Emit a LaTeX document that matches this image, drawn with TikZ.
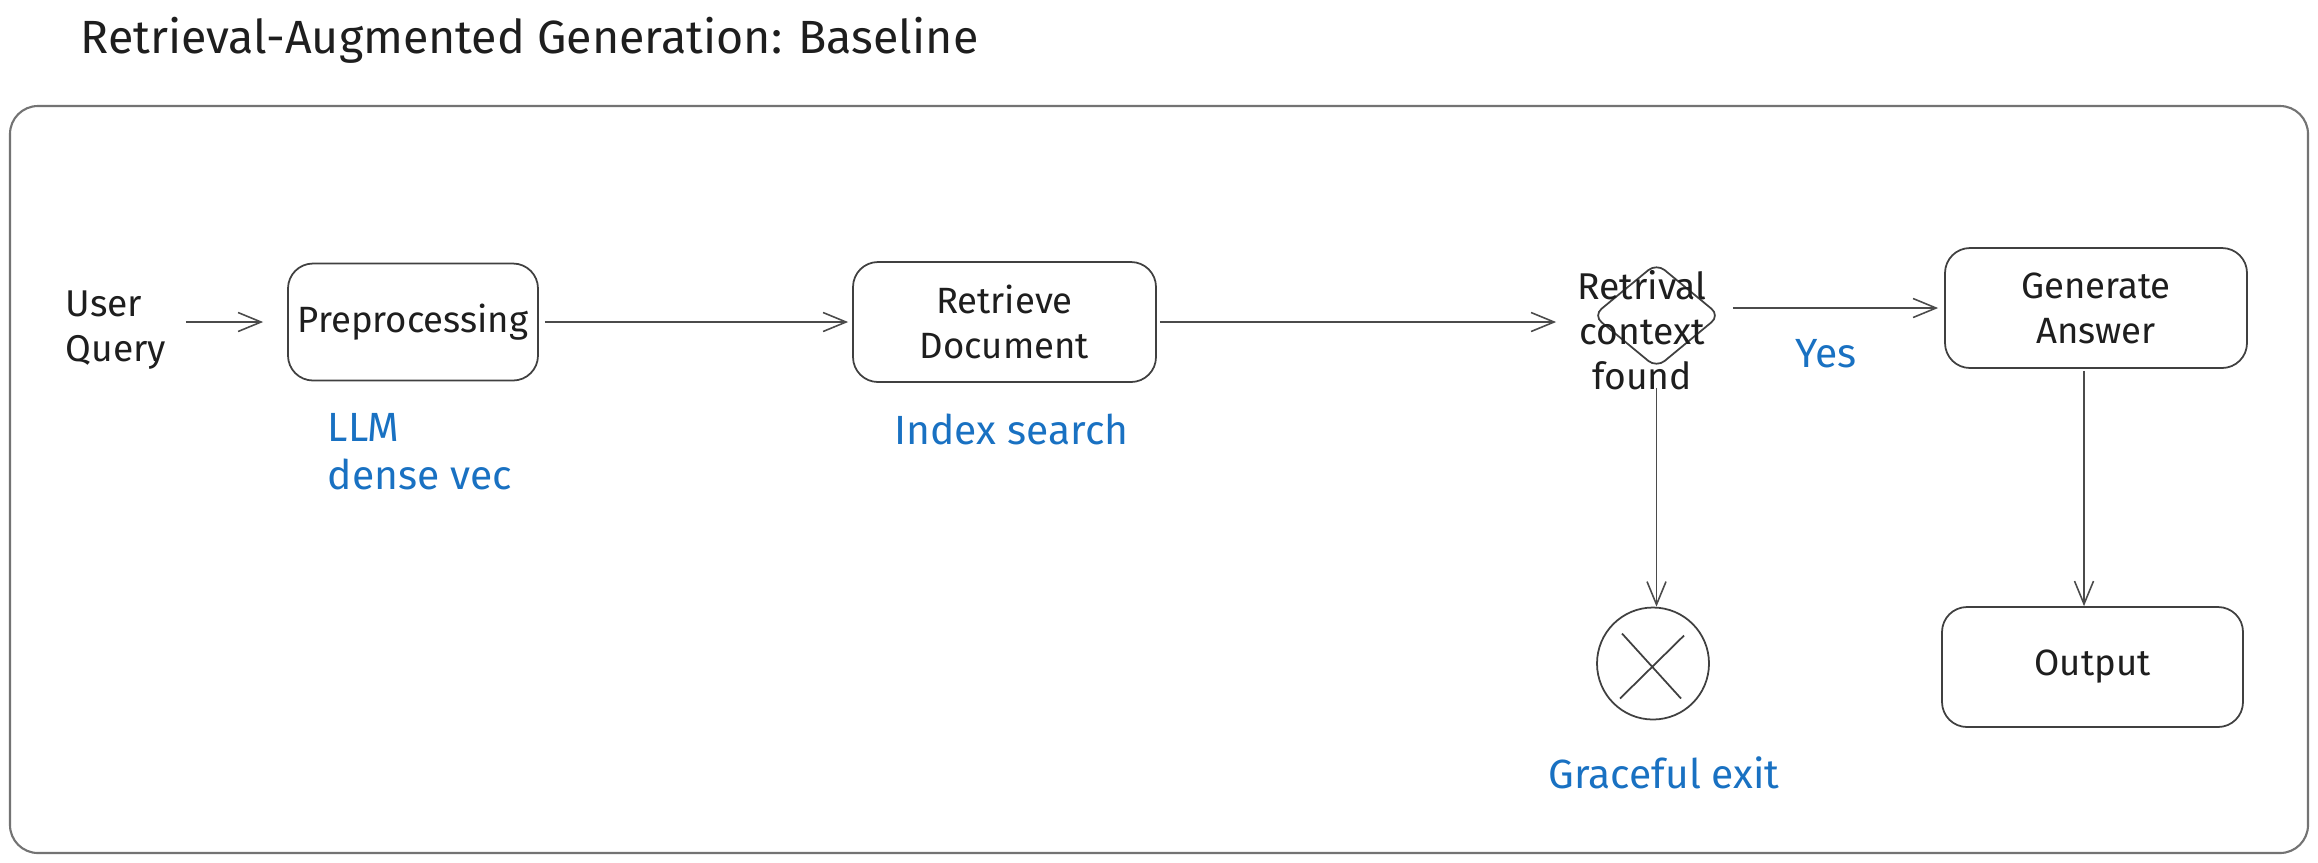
\documentclass[tikz,border=0pt]{standalone}
\usepackage{fontspec}
\setmainfont{Fira Sans}
\usetikzlibrary{arrows.meta,positioning,shapes.geometric}
\definecolor{inkcol}{HTML}{1E1E1E}
\definecolor{notecol}{HTML}{1971C2}

\begin{document}
\begin{tikzpicture}
    [stage/.style={rectangle,rounded corners=0.25cm,draw=inkcol!85,line width=0.5pt,
                   inner xsep=0.08cm,text=inkcol,align=center,font=\fontsize{10.4}{12.8}\selectfont},
    decision/.style={diamond,rounded corners=3pt,draw=inkcol!85,line width=0.5pt,
                     inner sep=0pt,minimum width=1.27cm,minimum height=1.05cm},
    stop/.style={circle,draw=inkcol!85,line width=0.5pt,inner sep=0pt,minimum size=1.12cm,
                 path picture={\draw[inkcol!85,line width=0.5pt]
                     ([shift={(-0.31,0.30)}]path picture bounding box.center) --
                     ([shift={(0.28,-0.35)}]path picture bounding box.center)
                     ([shift={(0.31,0.28)}]path picture bounding box.center) --
                     ([shift={(-0.33,-0.35)}]path picture bounding box.center);}},
    plain/.style={inner sep=0pt,text=inkcol,font=\fontsize{10.6}{12.8}\selectfont},
    note/.style={inner sep=0pt,text=notecol,font=\fontsize{11.6}{13.6}\selectfont},
    post/.style={-{Straight Barb[length=0.23cm,width=0.19cm]},draw=inkcol!80,line width=0.45pt}]

    \useasboundingbox (0,0) rectangle (23.18,-8.62);

    \node[plain,anchor=west,font=\fontsize{13.25}{16}\selectfont] (title) at (0.80,-0.40)
        {Retrieval-Augmented Generation: Baseline};
    \draw[black!55,line width=0.6pt,rounded corners=0.28cm] (0.10,-1.06) rectangle (23.08,-8.53);

    \node[plain,align=left,anchor=west] (query) at (0.65,-3.30) {User\\Query};
    \node[stage,minimum width=2.50cm,minimum height=1.17cm] (pre) at (4.13,-3.22) {Preprocessing};
    \node[stage,minimum width=3.03cm,minimum height=1.20cm] (ret) at (10.045,-3.22) {Retrieve\\Document};
    \node[decision] (dia) at (16.565,-3.155) {};
    \node[plain,align=center] (dialabel) at (16.42,-3.30) {Retrival\\context\\found};
    \node[stage,minimum width=3.02cm,minimum height=1.20cm] (gen) at (20.96,-3.08) {Generate\\Answer};
    \node[stage,minimum width=3.01cm,minimum height=1.20cm] (out) at (20.925,-6.67) {Output};
    \node[stop] (exit) at (16.53,-6.635) {};

    \node[note,align=left,anchor=west] (llm) at (3.27,-4.52) {LLM\\dense vec};
    \node[note] (idx) [below=0.30cm of ret,xshift=0.07cm] {Index search};
    \node[note] (yes) at (18.26,-3.54) {Yes};
    \node[note] (grace) at (16.64,-7.73) {Graceful exit};

    \draw[post,shorten <=0.19cm,shorten >=0.24cm] (pre.west -| query.east) -- (pre.west);
    \draw[post,shorten <=0.06cm,shorten >=0.04cm] (pre.east) -- (pre.east -| ret.west);
    \draw[post,shorten <=0.03cm,shorten >=0.36cm] (ret.east) -- (ret.east -| dia.west);
    \draw[post,shorten <=0.12cm,shorten >=0.06cm] (gen.west -| dia.east) -- (gen.west);
    \draw[post,shorten <=0.19cm] (dia.south) -- (dia.south |- exit.north);
    \draw[post,shorten <=0.02cm] ([xshift=-0.12cm]gen.south) -- ([xshift=-0.12cm]gen.south |- out.north);
\end{tikzpicture}
\end{document}
